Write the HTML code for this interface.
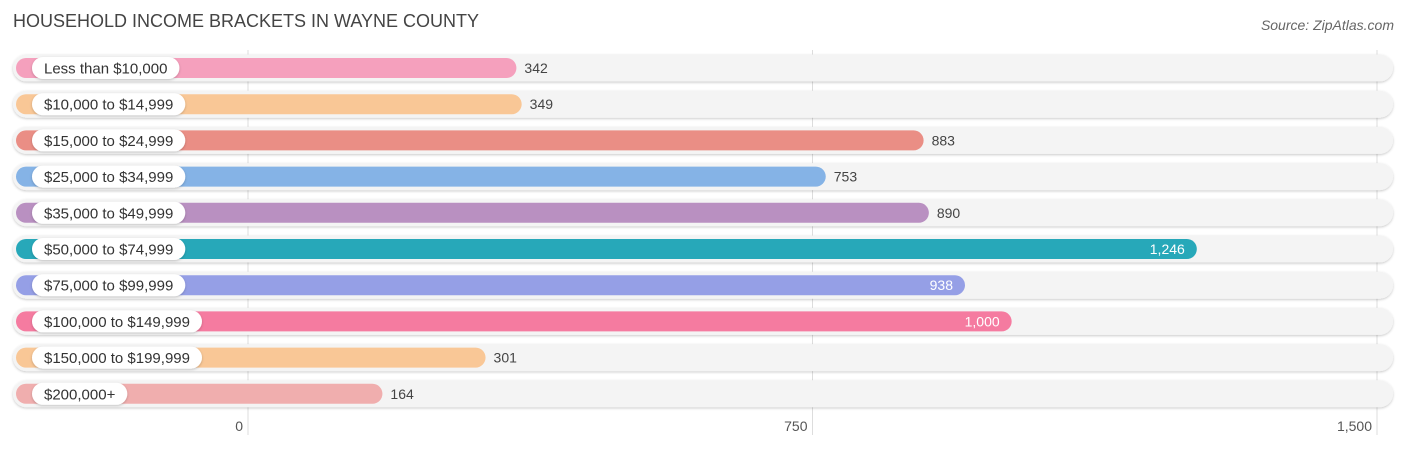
<!DOCTYPE html>
<html><head><meta charset="utf-8"><style>
body{margin:0;background:#fff;width:1406px;height:449px;overflow:hidden;font-family:"Liberation Sans",sans-serif}
</style></head><body>
<svg id="chart" width="1406" height="449" xmlns="http://www.w3.org/2000/svg">
<defs><filter id="sh" x="-5%" y="-50%" width="110%" height="200%"><feDropShadow dx="0" dy="1" stdDeviation="1.2" flood-color="#000" flood-opacity="0.22"/></filter></defs>
<text x="13" y="27" font-size="18" fill="#444">HOUSEHOLD INCOME BRACKETS IN WAYNE COUNTY</text>
<text x="1394" y="30" font-size="14" fill="#666" font-style="italic" text-anchor="end">Source: ZipAtlas.com</text>
<g id="grid"></g><g id="rows"></g><g id="ticks"></g>
</svg>
<script>
const categories=["Less than $10,000","$10,000 to $14,999","$15,000 to $24,999","$25,000 to $34,999","$35,000 to $49,999","$50,000 to $74,999","$75,000 to $99,999","$100,000 to $149,999","$150,000 to $199,999","$200,000+"];
const values=[342,349,883,753,890,1246,938,1000,301,164];
const colors=["#f5a0bd","#f9c796","#ea8e85","#85b3e6","#b990c1","#27a8b9","#959fe6","#f57ba0","#f9c796","#f0aeae"];
const tickValues=[0,750,1500];
const tickLabels=["0","750","1,500"];
const NS="http://www.w3.org/2000/svg";
const x=v=>248+v*(1129/1500);
const barEnd=v=>x(v)+11;
const y0=68,step=36.2;
function mk(t,a,p){const e=document.createElementNS(NS,t);for(const k in a)e.setAttribute(k,a[k]);p.appendChild(e);return e;}
const grid=document.getElementById('grid'),rows=document.getElementById('rows'),ticks=document.getElementById('ticks');
tickValues.forEach((t,i)=>{
 const l=mk('line',{x1:x(t),x2:x(t),y1:50,y2:435,stroke:'#ddd','stroke-width':1},grid);
 
 
 const tx=mk('text',{x:x(t)-(i==0?5:5),y:431,'font-size':14,fill:'#555','text-anchor':i==0?'end':'end'},ticks);
 tx.textContent=tickLabels[i];
 
 
});
categories.forEach((c,i)=>{
 const cy=y0+i*step;
 const tr=mk('rect',{x:13,y:cy-13.5,width:1380,height:27,rx:13.5,fill:'#f4f4f4',filter:'url(#sh)'},rows);
 
 
 const b=mk('rect',{x:16,y:cy-10,width:barEnd(values[i])-16,height:20,rx:10,fill:colors[i]},rows);
 
 
 const lt=mk('text',{x:44,y:cy+5.5,'font-size':15,fill:'#333'},rows);
 lt.textContent=c;
 const w=lt.getComputedTextLength();
 const pill=mk('rect',{x:32,y:cy-11,width:w+24,height:22,rx:11,fill:'#fff',filter:'url(#sh)'},rows);
 
 
 rows.appendChild(lt);
 
 
 const inside=values[i]>900;
 const vt=mk('text',{x:inside?barEnd(values[i])-12:barEnd(values[i])+8,y:cy+5,'font-size':14,fill:inside?'#fff':'#444','text-anchor':inside?'end':'start'},rows);
 vt.textContent=values[i].toLocaleString('en-US');
 
 
});
</script>
</body></html>
